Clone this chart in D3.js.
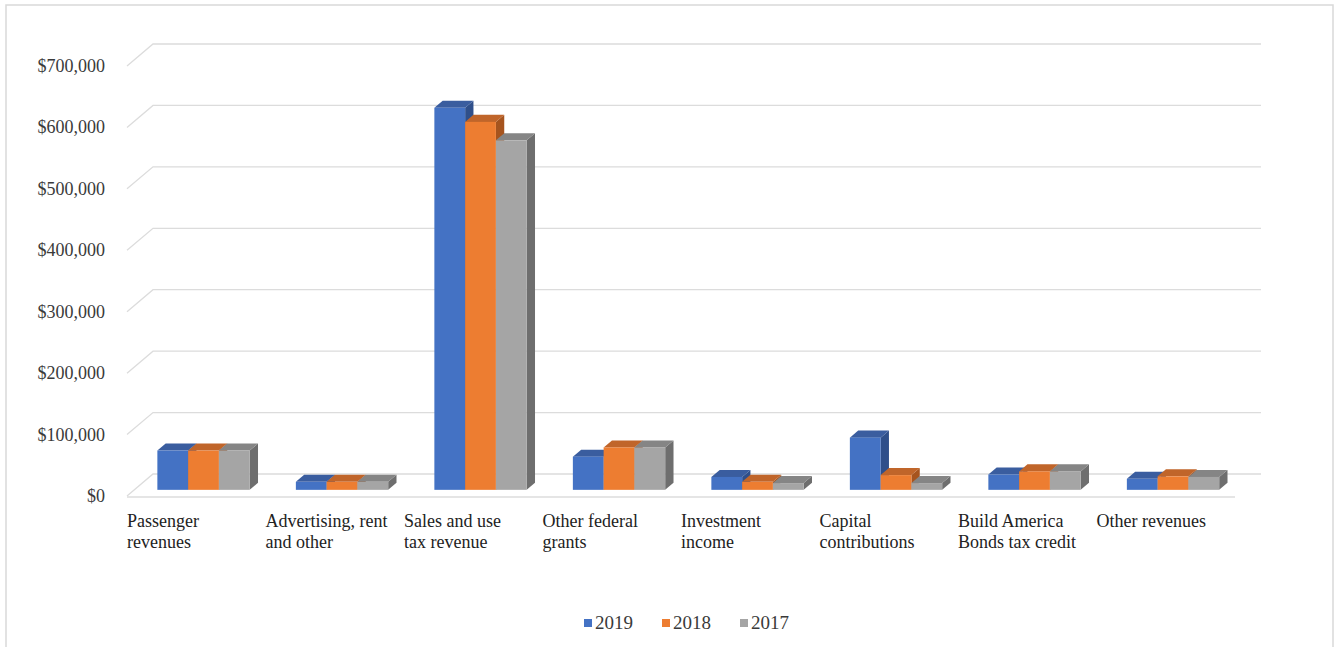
<!DOCTYPE html>
<html lang="en">
<head>
  <meta charset="UTF-8" />
  <title>Revenues by source, 2017-2019</title>
  <script src="https://d3js.org/d3.v7.min.js"></script>
  <style>
    body {
      margin: 0;
      background: #fff;
      font-family: "Liberation Serif", "Times New Roman", serif;
    }
    svg text {
      font-family: "Liberation Serif", "Times New Roman", serif;
    }
    .tick-label {
      font-size: 18px;
      fill: #3a3a3a;
    }
    .cat-label {
      font-size: 18px;
      fill: #222;
    }
    .legend-label {
      font-size: 19px;
      fill: #3a3a3a;
    }
  </style>
</head>
<body>
  <svg id="chart" width="1335" height="647"></svg>
  <script>
    // Chart data
    const categories = [
      ["Passenger", "revenues"],
      ["Advertising, rent", "and other"],
      ["Sales and use", "tax revenue"],
      ["Other federal", "grants"],
      ["Investment", "income"],
      ["Capital", "contributions"],
      ["Build America", "Bonds tax credit"],
      ["Other revenues"]
    ];
    const years = ["2019", "2018", "2017"];
    const values2019 = [64000, 13000, 622000, 54000, 21000, 85000, 25000, 18000];
    const values2018 = [64000, 13000, 599000, 69000, 13000, 24000, 30000, 22000];
    const values2017 = [64000, 13000, 569000, 69000, 11000, 11000, 30000, 21000];
    const yTicks = [0, 100000, 200000, 300000, 400000, 500000, 600000, 700000];

    const seriesValues = [values2019, values2018, values2017];
    const front = ["#4472c4", "#ed7d31", "#a5a5a5"];
    const topC = ["#3a5d9f", "#c0652a", "#858585"];
    const sideC = ["#2f4f8a", "#a6541e", "#6e6e6e"];

    const svg = d3.select("#chart");

    // frame
    svg.append("rect")
      .attr("x", 6).attr("y", 5)
      .attr("width", 1327).attr("height", 660)
      .attr("fill", "none")
      .attr("stroke", "#d9d9d9")
      .attr("stroke-width", 1.5);

    // oblique 3D geometry
    const frontX0 = 127, frontX1 = 1235, frontBase = 496;
    const depthDx = 26, depthDy = 22;
    const f1 = 0.28, f2 = 0.6; // bar front/back depth fractions

    const x = d3.scaleBand()
      .domain(d3.range(categories.length))
      .range([frontX0, frontX1]);
    const barW = x.bandwidth() / 4.5;
    const x1 = d3.scaleBand()
      .domain(years)
      .range([barW * 0.75, barW * 3.75]);

    const h = d3.scaleLinear().domain([0, 700000]).range([0, 430]);

    // gridlines: back wall + side wall diagonal
    const grid = svg.append("g")
      .attr("stroke", "#dcdcdc")
      .attr("stroke-width", 1.3)
      .attr("fill", "none");
    yTicks.forEach(v => {
      const yb = frontBase - depthDy - h(v);
      const yf = frontBase - h(v);
      grid.append("path")
        .attr("d", `M${frontX0},${yf}L${frontX0 + depthDx},${yb}L${frontX1 + depthDx},${yb}`);
    });
    // front floor edge
    grid.append("line")
      .attr("x1", frontX0).attr("x2", frontX1)
      .attr("y1", frontBase + 1).attr("y2", frontBase + 1);

    // y-axis labels
    const fmt = d3.format("$,");
    svg.append("g").selectAll("text")
      .data(yTicks)
      .join("text")
      .attr("class", "tick-label")
      .attr("x", 105)
      .attr("y", d => frontBase - h(d) + 6)
      .attr("text-anchor", "end")
      .text(d => fmt(d));

    // bars
    const ox = f1 * depthDx, oy = f1 * depthDy;
    const bdx = (f2 - f1) * depthDx, bdy = (f2 - f1) * depthDy;
    const bars = svg.append("g");
    categories.forEach((c, i) => {
      years.forEach((yr, s) => {
        const v = seriesValues[s][i];
        const bx = x(i) + x1(yr) + ox;
        const bottom = frontBase - oy;
        const top = bottom - h(v);
        const w = x1.bandwidth();
        // side face
        bars.append("path")
          .attr("fill", sideC[s])
          .attr("d", `M${bx + w},${top}L${bx + w + bdx},${top - bdy}L${bx + w + bdx},${bottom - bdy}L${bx + w},${bottom}Z`);
        // top face
        bars.append("path")
          .attr("fill", topC[s])
          .attr("d", `M${bx},${top}L${bx + w},${top}L${bx + w + bdx},${top - bdy}L${bx + bdx},${top - bdy}Z`);
        // front face
        bars.append("rect")
          .attr("fill", front[s])
          .attr("x", bx).attr("y", top)
          .attr("width", w).attr("height", bottom - top);
      });
    });

    // category labels
    const labels = svg.append("g");
    categories.forEach((lines, i) => {
      const t = labels.append("text")
        .attr("class", "cat-label")
        .attr("x", x(i))
        .attr("y", 527);
      lines.forEach((ln, k) => {
        t.append("tspan")
          .attr("x", x(i))
          .attr("dy", k === 0 ? 0 : 21)
          .text(ln);
      });
    });

    // legend
    const legend = svg.append("g");
    years.forEach((yr, s) => {
      const lx = 584 + s * 78;
      legend.append("rect")
        .attr("x", lx).attr("y", 619)
        .attr("width", 8).attr("height", 8)
        .attr("fill", front[s]);
      legend.append("text")
        .attr("class", "legend-label")
        .attr("x", lx + 11)
        .attr("y", 629)
        .text(yr);
    });
  </script>
</body>
</html>
